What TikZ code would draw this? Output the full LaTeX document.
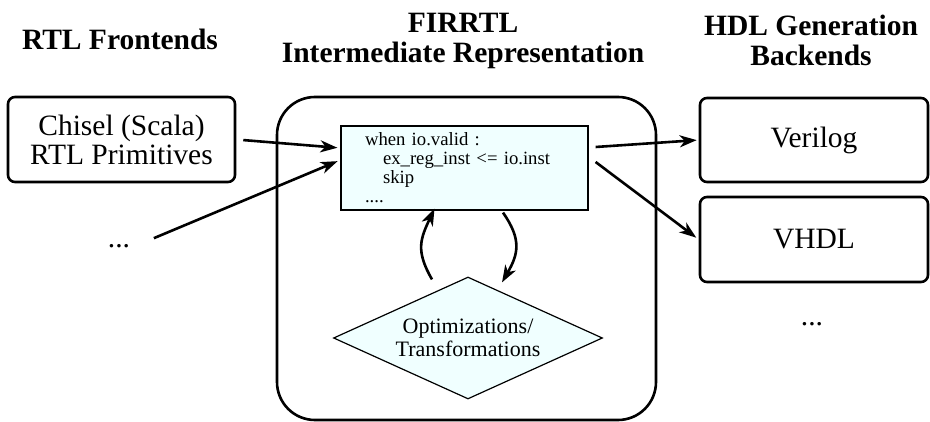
\documentclass[tikz,border=0pt]{standalone}
\usepackage{fontspec}
\setmainfont{Liberation Serif}
\usetikzlibrary{positioning, shapes.geometric, arrows.meta}
\definecolor{irfill}{RGB}{240,255,255}

\begin{document}
\begin{tikzpicture}[x=1pt, y=-1pt,
  block/.style={draw, rectangle, rounded corners=7pt, line width=2.6pt, minimum width=227pt, minimum height=85pt, inner sep=0pt, align=center, font=\fontsize{29.5}{29}\selectfont},
  heading/.style={align=center, font=\fontsize{29.5}{30}\selectfont\bfseries},
  flow/.style={-{Stealth[length=17pt, width=12pt, inset=5pt]}, line width=2.6pt}]
\useasboundingbox (0,0) rectangle (930,422);

\node (front) [heading, anchor=base] at (120,50) {RTL Frontends};
\node (mid) [heading] at (463,41.4) {FIRRTL\\Intermediate Representation};
\node (back) [heading] at (811,40) {HDL Generation\\Backends};

\node (chisel) [block] at (121.5,139.5) {Chisel (Scala)\\RTL Primitives};
\node (ldots) [anchor=base, font=\fontsize{29.5}{29}\selectfont] at (119,248) {...};

\node (ir) [draw, rectangle, rounded corners=38pt, line width=2.6pt, minimum width=379pt, minimum height=323pt] at (466.5,258.5) {};
\node (code) [draw, rectangle, fill=irfill, line width=1.2pt, minimum width=247pt, minimum height=84pt, text width=199pt, inner xsep=24pt, align=left, font=\fontsize{18.7}{19}\selectfont] at (464.5,168)
    {when io.valid :\\\hspace*{18pt}ex\_reg\_inst <= io.inst\\\hspace*{18pt}skip\\....};
\node (opt) [draw, diamond, aspect=2.2, fill=irfill, line width=1.2pt, minimum width=269pt, minimum height=122pt, inner sep=0pt, align=center, font=\fontsize{22}{23}\selectfont] at (468,338)
    {Optimizations/\\Transformations};

\node (verilog) [block, minimum width=228pt, minimum height=84pt] at (814,140) {Verilog};
\node (vhdl) [block, minimum width=228pt] at (814,239.5) {VHDL};
\node (rdots) [anchor=base, font=\fontsize{29.5}{29}\selectfont] at (812,326) {...};

\draw[flow, shorten <=7pt, shorten >=3pt] (chisel.east) -- ([yshift=20pt]code.west);
\draw[flow, shorten <=22pt, shorten >=3pt] (ldots.east) -- ([yshift=8pt]code.west);
\draw[flow, shorten >=2pt] ([shift={(7pt,21pt)}]code.east) -- (verilog.west);
\draw[flow, shorten >=3pt] ([shift={(7pt,6pt)}]code.east) -- (vhdl.west);
\draw[flow] ([shift={(-36pt,-3pt)}]opt.north) to[out=120, in=245, looseness=1.2] ([shift={(-30pt,2pt)}]code.south);
\draw[flow] ([shift={(38.5pt,-2pt)}]code.south) to[out=-55, in=60, looseness=1.2] ([shift={(34pt,-6pt)}]opt.north);
\end{tikzpicture}
\end{document}
